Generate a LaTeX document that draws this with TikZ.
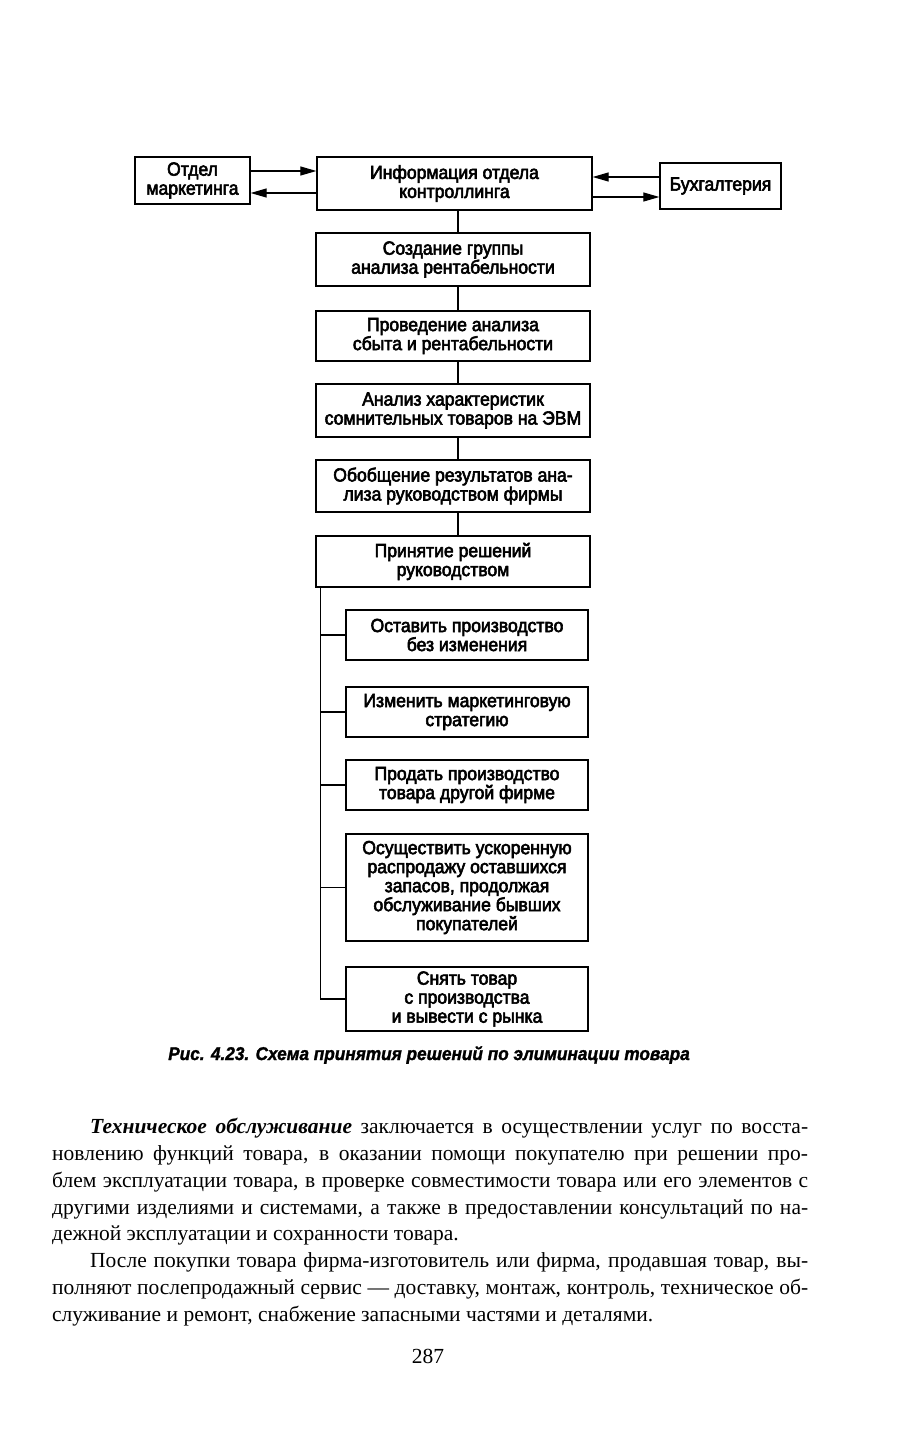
\documentclass[tikz,border=0pt]{standalone}
\usepackage{fontspec}
\setmainfont{Liberation Serif}
\newfontfamily\diag[FakeStretch=0.925,FakeBold=3]{Liberation Sans}
\newfontfamily\capfont[FakeStretch=0.93,FakeBold=1.5]{Liberation Sans}
\usetikzlibrary{arrows.meta}
\tikzset{
  box/.style={draw, line width=1.3pt, align=center, inner sep=2pt,
    font=\diag\fontsize{19}{19}\selectfont},
  arr/.style={-{Triangle[length=16pt,width=9pt]}, line width=1.2pt},
  link/.style={line width=1.3pt},
  bodyline/.style={anchor=base west, inner sep=0pt, font=\fontsize{21.5}{26}\selectfont},
}
\begin{document}
\begin{tikzpicture}[x=1pt,y=-1pt]
\useasboundingbox[fill=white] (0,0) rectangle (906,1440);

% top row
\node[box, minimum width=115pt, minimum height=47pt] (mkt) at (192.5,180.5) {Отдел\\маркетинга};
\node[box, minimum width=275pt, minimum height=53pt] (info) at (454.5,183.5) {Информация отдела\\контроллинга};
\node[box, minimum width=121pt, minimum height=46pt] (buh) at (720.5,186) {Бухгалтерия};

\draw[arr] (mkt.east |- 0,171) -- (info.west |- 0,171);
\draw[arr] (info.west |- 0,193) -- (mkt.east |- 0,193);
\draw[arr] (buh.west |- 0,177) -- (info.east |- 0,177);
\draw[arr] (info.east |- 0,197) -- (buh.west |- 0,197);

% main column
\node[box, minimum width=274pt, minimum height=53pt] (b2) at (453,259.5) {Создание группы\\анализа рентабельности};
\node[box, minimum width=274pt, minimum height=50pt] (b3) at (453,336) {Проведение анализа\\сбыта и рентабельности};
\node[box, minimum width=274pt, minimum height=53pt] (b4) at (453,410.5) {Анализ характеристик\\сомнительных товаров на ЭВМ};
\node[box, minimum width=274pt, minimum height=52pt] (b5) at (453,486) {Обобщение результатов ана-\\лиза руководством фирмы};
\node[box, minimum width=274pt, minimum height=51pt] (b6) at (453,561.5) {Принятие решений\\руководством};

\coordinate (cx) at ([xshift=5pt]b2.north);
\draw[link] (cx |- info.south) -- (cx |- b2.north);
\draw[link] (cx |- b2.south) -- (cx |- b3.north);
\draw[link] (cx |- b3.south) -- (cx |- b4.north);
\draw[link] (cx |- b4.south) -- (cx |- b5.north);
\draw[link] (cx |- b5.south) -- (cx |- b6.north);

% branches
\node[box, minimum width=242pt, minimum height=50pt] (r1) at (467,635) {Оставить производство\\без изменения};
\node[box, minimum width=242pt, minimum height=50pt] (r2) at (467,712) {Изменить маркетинговую\\стратегию};
\node[box, minimum width=242pt, minimum height=50pt] (r3) at (467,785) {Продать производство\\товара другой фирме};
\node[box, minimum width=242pt, minimum height=107pt] (r4) at (467,887.5) {Осуществить ускоренную\\распродажу оставшихся\\запасов, продолжая\\обслуживание бывших\\покупателей};
\node[box, minimum width=242pt, minimum height=64pt] (r5) at (467,999) {Снять товар\\с производства\\и вывести с рынка};

\coordinate (sp) at ([xshift=5pt]b6.south west);
\draw[link] (sp) |- (r5.west);
\draw[link] (sp |- r1.west) -- (r1.west);
\draw[link] (sp |- r2.west) -- (r2.west);
\draw[link] (sp |- r3.west) -- (r3.west);
\draw[link] (sp |- r4.west) -- (r4.west);

% caption
\node[inner sep=0pt, font=\capfont\bfseries\itshape\fontsize{18.5}{20}\selectfont] (cap) at (429,1055)
  {Рис. 4.23. Схема принятия решений по элиминации товара};

% body text
\node[bodyline] (l1) at (90,1133) {\makebox[718pt][s]{\textbf{\textit{Техническое обслуживание}} заключается в осуществлении услуг по восста-}};
\node[bodyline] (l2) at (52,1160) {\makebox[756pt][s]{новлению функций товара, в оказании помощи покупателю при решении про-}};
\node[bodyline] (l3) at (52,1187) {\makebox[756pt][s]{блем эксплуатации товара, в проверке совместимости товара или его элементов с}};
\node[bodyline] (l4) at (52,1214) {\makebox[756pt][s]{другими изделиями и системами, а также в предоставлении консультаций по на-}};
\node[bodyline] (l5) at (52,1240) {дежной эксплуатации и сохранности товара.};
\node[bodyline] (l6) at (90,1267) {\makebox[718pt][s]{После покупки товара фирма-изготовитель или фирма, продавшая товар, вы-}};
\node[bodyline] (l7) at (52,1294) {\makebox[756pt][s]{полняют послепродажный сервис — доставку, монтаж, контроль, техническое об-}};
\node[bodyline] (l8) at (52,1321) {служивание и ремонт, снабжение запасными частями и деталями.};

\node[inner sep=0pt, font=\fontsize{21.5}{26}\selectfont] (pg) at (428,1356) {287};
\end{tikzpicture}
\end{document}
